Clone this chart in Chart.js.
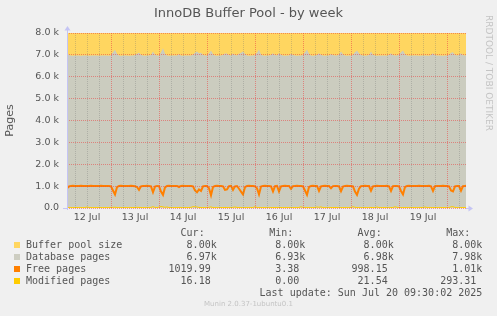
<!DOCTYPE html>
<html>
<head>
<meta charset="utf-8">
<script src="https://cdn.jsdelivr.net/npm/chart.js@4.4.0/dist/chart.umd.min.js"></script>
<style>
  html, body { margin: 0; padding: 0; background: #f0f0f0; }
  #wrap { position: relative; width: 497px; height: 316px; overflow: hidden; }
  #statsChart { position: absolute; left: 0; top: 0; }
  .txt { position: absolute; color: #555; white-space: pre; }
  #title { left: 0; width: 497px; top: 5px; text-align: center; font: 13px "DejaVu Sans"; line-height: 16px; }
  #rrd { left: 484px; top: 15px; font: 9px "DejaVu Sans"; color: #c4c4c4; writing-mode: vertical-rl; }
  .mono { font: 10px "DejaVu Sans Mono"; line-height: 12px; }
  .sw { position: absolute; width: 6px; height: 6px; }
  #munin { left: 0; width: 497px; text-align: center; top: 300px; font: 7px "DejaVu Sans"; color: #c4c4c4; }
</style>
</head>
<body>
<div id="wrap">
  <canvas id="statsChart" width="497" height="316"></canvas>
  <div id="title" class="txt">InnoDB Buffer Pool - by week</div>
  <div id="rrd" class="txt">RRDTOOL / TOBI OETIKER</div>
  <div id="legend"></div>
  <div id="munin" class="txt">Munin 2.0.37-1ubuntu0.1</div>
</div>
<script>
// time axis: hours since 12 Jul 00:00
const startHour = 2;
const stepHours = 1;        // samples of database, free and modified pages
const sizeStepHours = 2;    // samples of buffer pool size
const dayLabels = ["12 Jul", "13 Jul", "14 Jul", "15 Jul", "16 Jul", "17 Jul", "18 Jul", "19 Jul"];

const bufferPoolSize = [
    8000, 8000, 8000, 8000, 8000, 8000, 8000, 8000, 8000, 8000, 8000, 8000, 8000, 8000, 8000, 8000, 8000, 8000, 8000, 8000,
    8000, 8000, 8000, 8000, 8000, 8000, 8000, 8000, 8000, 8000, 8000, 8000, 8000, 8000, 8000, 8000, 8000, 8000, 8000, 8000,
    8000, 8000, 8000, 8000, 8000, 8000, 8000, 8000, 8000, 8000, 8000, 8000, 8000, 8000, 8000, 8000, 8000, 8000, 8000, 8000,
    8000, 8000, 8000, 8000, 8000, 8000, 8000, 8000, 8000, 8000, 8000, 8000, 8000, 8000, 8000, 8000, 8000, 8000, 8000, 8000,
    8000, 8000, 8000, 8000, 8000, 8000, 8000, 8000, 8000, 8000, 8000, 8000, 8000, 8000, 8000, 8000, 8000, 8000, 8000, 8000,
    8000
];

// one value per hour, from 12 Jul 02:00
const databasePages = [
    7080, 7000, 6970, 6965, 6970, 6975, 6970, 6965, 6970, 6975,
    6970, 6965, 6970, 6975, 6970, 6970, 6965, 6970, 6975, 6970,
    6970, 6965, 6990, 7120, 7230, 7050, 6970, 6965, 6970, 6975,
    6970, 6965, 6970, 6975, 6990, 7050, 7100, 7010, 6970, 6965,
    6970, 6975, 7010, 7150, 7020, 6970, 6975, 7120, 7300, 7060,
    6970, 6965, 6970, 6975, 6970, 6970, 7030, 6970, 6965, 6970,
    6975, 6970, 6975, 7020, 7100, 7150, 7080, 7100, 7010, 6970,
    6975, 7080, 7200, 7040, 6970, 6965, 6970, 6975, 7010, 7060,
    7060, 6990, 6970, 7060, 7000, 6975, 7050, 7100, 7150, 7050,
    6970, 6965, 6970, 6975, 7010, 7100, 7250, 7020, 6970, 6965,
    6970, 6975, 7010, 7070, 6990, 6970, 7080, 7010, 6970, 6965,
    6970, 6975, 7050, 6990, 6970, 6965, 6970, 6975, 7010, 7120,
    7250, 7050, 6970, 6965, 6970, 6990, 7070, 7010, 6970, 6965,
    6970, 6975, 7040, 6990, 6970, 6975, 7020, 7150, 7030, 6970,
    6965, 6970, 6975, 7020, 7120, 7200, 7080, 6990, 6970, 6965,
    6970, 6990, 7150, 7010, 6970, 6965, 6970, 6975, 6970, 6970,
    6965, 7010, 7070, 6990, 6970, 6975, 7020, 7120, 7200, 7040,
    6970, 6965, 6970, 6975, 6970, 6970, 6965, 6970, 6975, 6970,
    6970, 6965, 7010, 7070, 6990, 6970, 6975, 6970, 6965, 6970,
    6975, 7010, 7100, 7120, 7010, 6970, 6990, 7080, 6990, 6970,
    6970
];

const freePages = [
    900, 985, 1010, 1012, 1010, 1008, 1010, 1012, 1010, 1005,
    1010, 1010, 1012, 1010, 1008, 1010, 1010, 1012, 1010, 1005,
    1010, 1010, 990, 800, 620, 950, 1010, 1012, 1010, 1008,
    1010, 1010, 1012, 1005, 990, 960, 830, 990, 1010, 1010,
    1012, 1005, 990, 720, 980, 1010, 1000, 750, 600, 940,
    1010, 1012, 1010, 1008, 1010, 1010, 960, 1010, 1012, 1010,
    1008, 1010, 1005, 990, 800, 720, 850, 780, 990, 1010,
    1005, 900, 580, 960, 1010, 1012, 1010, 1008, 990, 830,
    850, 1000, 1010, 830, 990, 1005, 880, 750, 620, 950,
    1010, 1012, 1010, 1008, 990, 900, 620, 980, 1010, 1012,
    1010, 1008, 990, 760, 1000, 1010, 760, 990, 1010, 1012,
    1010, 1005, 880, 1000, 1010, 1012, 1010, 1008, 990, 800,
    600, 960, 1010, 1012, 1010, 1008, 780, 990, 1010, 1012,
    1010, 1005, 900, 1000, 1010, 1008, 990, 770, 980, 1010,
    1012, 1010, 1008, 990, 750, 600, 880, 1000, 1010, 1012,
    1010, 1005, 790, 990, 1010, 1012, 1010, 1008, 1010, 1010,
    1012, 990, 780, 1000, 1010, 1008, 990, 780, 620, 960,
    1010, 1012, 1010, 1008, 1010, 1010, 1012, 1010, 1005, 1010,
    1010, 1012, 990, 780, 1000, 1010, 1008, 1010, 1012, 1010,
    1005, 990, 800, 760, 990, 1010, 1005, 790, 1000, 1010,
    1020
];

const modifiedPages = [
    20, 18, 16, 18, 20, 22, 18, 16, 18, 20,
    45, 22, 18, 16, 18, 20, 22, 18, 16, 18,
    20, 18, 25, 30, 35, 20, 18, 16, 18, 20,
    18, 16, 18, 20, 25, 30, 25, 18, 16, 18,
    20, 18, 30, 60, 25, 20, 40, 70, 50, 30,
    45, 20, 18, 16, 18, 20, 22, 18, 16, 18,
    20, 18, 30, 60, 55, 45, 25, 20, 18, 16,
    20, 30, 50, 20, 18, 16, 18, 20, 18, 25,
    20, 18, 16, 30, 45, 25, 20, 18, 16, 18,
    20, 18, 16, 25, 60, 20, 18, 16, 18, 20,
    18, 16, 18, 20, 22, 18, 25, 20, 16, 18,
    20, 18, 16, 18, 20, 18, 25, 55, 30, 18,
    20, 18, 16, 18, 25, 45, 30, 50, 20, 18,
    16, 18, 20, 18, 25, 20, 18, 16, 18, 20,
    18, 16, 25, 60, 30, 20, 18, 16, 18, 20,
    18, 16, 25, 20, 18, 45, 18, 16, 18, 20,
    18, 16, 18, 25, 55, 30, 18, 16, 18, 20,
    18, 16, 18, 20, 18, 16, 18, 20, 25, 45,
    20, 18, 16, 18, 20, 18, 16, 18, 20, 18,
    16, 18, 55, 60, 25, 18, 16, 18, 20, 18,
    16
];

// legend table
const legendLabels = ["Buffer pool size", "Database pages", "Free pages", "Modified pages"];
const legendColors = ["#ffd660", "#cdcdc1", "#ff8000", "#ffcc00"];
const curValues = ["8.00k", "6.97k", "1019.99 ", "16.18 "];
const minValues = ["8.00k", "6.93k", "3.38 ", "0.00 "];
const avgValues = ["8.00k", "6.98k", "998.15 ", "21.54 "];
const maxValues = ["8.00k", "7.98k", "1.01k", "293.31 "];
const lastUpdate = "Last update: Sun Jul 20 09:30:02 2025";

const canvas = document.getElementById("statsChart");
const ctx = canvas.getContext("2d");
const majorGrid = "rgba(235, 70, 70, 0.55)";
const minorGrid = "rgba(110, 110, 110, 0.3)";
const axisColor = "#c4c4f4";

function toPoints(values, step) {
    return values.map((v, i) => ({ x: startHour + i * step, y: v }));
}

function buildLegend() {
    const box = document.getElementById("legend");
    const edges = [216.7, 305.3, 393.7, 482.3];
    const heads = ["Cur:  ", "Min:  ", "Avg:  ", "Max:  "];
    const cols = [curValues, minValues, avgValues, maxValues];
    let html = "";
    const rowTop = 227;
    heads.forEach((h, c) => {
        html += `<div class="txt mono" style="top:${rowTop}px;right:${497 - edges[c]}px">${h}</div>`;
    });
    legendLabels.forEach((label, r) => {
        const top = rowTop + 12 * (r + 1);
        html += `<div class="sw" style="left:14px;top:${top + 3}px;background:${legendColors[r]}"></div>`;
        html += `<div class="txt mono" style="left:26px;top:${top}px">${label}</div>`;
        cols.forEach((col, c) => {
            html += `<div class="txt mono" style="top:${top}px;right:${497 - edges[c]}px">${col[r]}</div>`;
        });
    });
    html += `<div class="txt mono" style="top:${rowTop + 60}px;right:${497 - edges[3]}px">${lastUpdate}</div>`;
    box.innerHTML = html;
}

const axisArrows = {
    id: "axisArrows",
    afterDraw(chart) {
        const { ctx, chartArea: a } = chart;
        ctx.save();
        ctx.strokeStyle = axisColor;
        ctx.fillStyle = axisColor;
        ctx.lineWidth = 1;
        const lx = Math.round(a.left) + 0.5;
        const by = Math.round(a.bottom) + 0.5;
        ctx.beginPath();
        ctx.moveTo(lx, a.bottom + 2);
        ctx.lineTo(lx, a.top - 4);
        ctx.stroke();
        ctx.beginPath();
        ctx.moveTo(lx - 3, a.top - 2.5);
        ctx.lineTo(lx + 3, a.top - 2.5);
        ctx.lineTo(lx, a.top - 7);
        ctx.closePath();
        ctx.fill();
        ctx.beginPath();
        ctx.moveTo(a.left - 4, by);
        ctx.lineTo(a.left, by);
        ctx.moveTo(a.right, by);
        ctx.lineTo(a.right + 3, by);
        ctx.stroke();
        ctx.beginPath();
        ctx.moveTo(a.right + 2.5, by - 3);
        ctx.lineTo(a.right + 2.5, by + 3);
        ctx.lineTo(a.right + 7, by);
        ctx.closePath();
        ctx.fill();
        ctx.restore();
    },
};

window.onload = function () {
    buildLegend();
    initializeChart();
};

function initializeChart() {
    const tickHours = [];
    for (let h = 6; h <= 198; h += 6) tickHours.push(h);

    const data = {
        datasets: [
            {
                label: "Buffer pool size",
                data: toPoints(bufferPoolSize, sizeStepHours),
                backgroundColor: "#ffd660",
                borderWidth: 0,
                pointRadius: 0,
                fill: "origin",
                order: 4,
            },
            {
                label: "Database pages",
                data: toPoints(databasePages, stepHours),
                backgroundColor: "#cbccbf",
                borderWidth: 0,
                pointRadius: 0,
                fill: "origin",
                order: 3,
            },
            {
                label: "Free pages",
                data: toPoints(freePages, stepHours),
                borderColor: "#ff8000",
                borderWidth: 2,
                pointRadius: 0,
                fill: false,
                order: 2,
            },
            {
                label: "Modified pages",
                data: toPoints(modifiedPages, stepHours),
                borderColor: "#ffcc00",
                borderWidth: 1,
                pointRadius: 0,
                fill: false,
                order: 1,
            },
        ],
    };

    const options = {
        responsive: false,
        animation: false,
        devicePixelRatio: 1,
        layout: { padding: { left: 0, top: 33, right: 31, bottom: 0 } },
        plugins: {
            legend: { display: false },
            tooltip: { enabled: false },
        },
        elements: { line: { tension: 0 } },
        scales: {
            x: {
                type: "linear",
                min: 2,
                max: 201.5,
                afterBuildTicks: s => { s.ticks = tickHours.map(v => ({ value: v })); },
                afterFit: s => { s.height = 108; },
                grid: {
                    z: 1,
                    color: c => (c.tick && c.tick.value % 24 === 0 ? majorGrid : minorGrid),
                    drawTicks: false,
                    lineWidth: 1,
                },
                border: { display: false, dash: [1, 1] },
                ticks: {
                    autoSkip: false,
                    maxRotation: 0,
                    padding: 4,
                    color: "#555",
                    font: { family: "DejaVu Sans", size: 9.5 },
                    callback: v => (v % 24 === 12 ? dayLabels[(v - 12) / 24] : ""),
                },
            },
            y: {
                min: 0,
                max: 8000,
                afterFit: s => { s.width = 67; },
                grid: {
                    z: 1,
                    color: c => (c.tick && c.tick.value % 1000 === 0 ? majorGrid : minorGrid),
                    drawTicks: false,
                    lineWidth: 1,
                },
                border: { display: false, dash: [1, 1] },
                title: {
                    display: true,
                    text: "Pages",
                    color: "#555",
                    font: { family: "DejaVu Sans", size: 11 },
                    padding: { top: 4, bottom: 0 },
                },
                ticks: {
                    stepSize: 500,
                    padding: 8,
                    color: "#555",
                    font: { family: "DejaVu Sans", size: 9.5 },
                    callback: v => (v % 1000 !== 0 ? "" : v === 0 ? "0.0" : (v / 1000).toFixed(1) + " k"),
                },
            },
        },
    };

    window.myChart = new Chart(ctx, {
        type: "line",
        data: data,
        options: options,
        plugins: [axisArrows],
    });
}
</script>
</body>
</html>
